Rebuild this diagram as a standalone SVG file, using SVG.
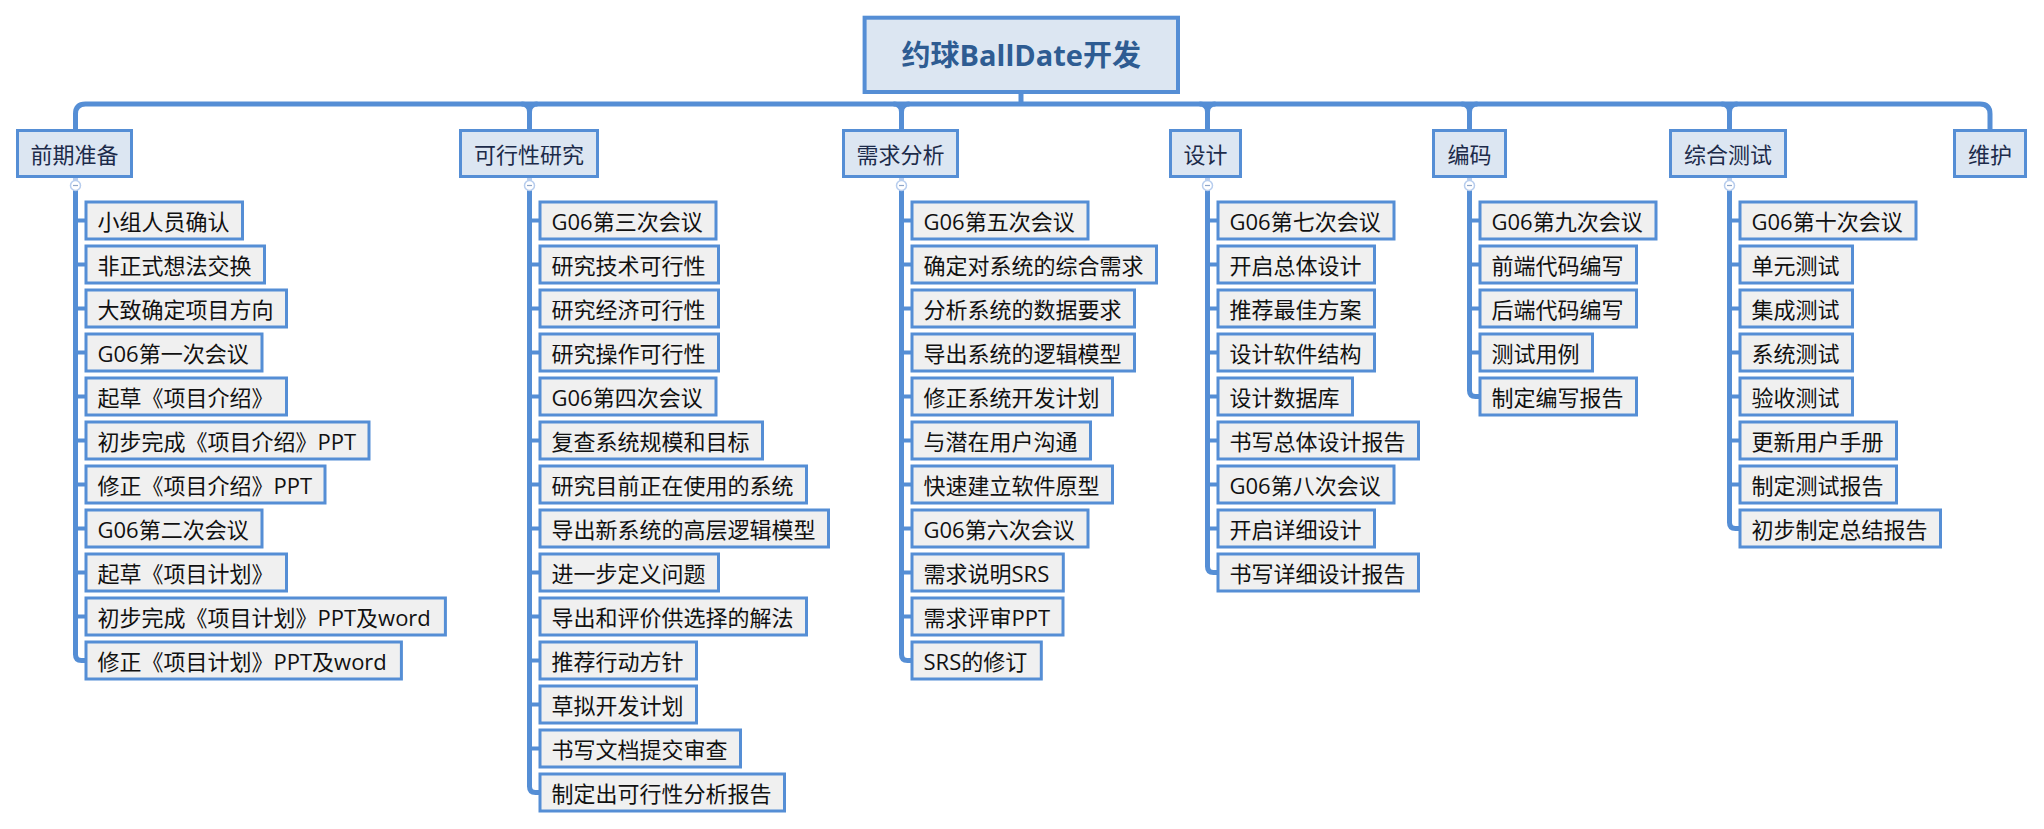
<svg xmlns="http://www.w3.org/2000/svg" width="2044" height="829" viewBox="0 0 2044 829">
<style>
text{font-family:"Open Sans","Noto Sans CJK SC","Noto Sans",sans-serif;font-size:22px;}
.title rect{fill:#dce6f2;stroke:#558ed5;stroke-width:4;}
.title text{font-size:29px;font-weight:bold;fill:#2e5c92;text-anchor:middle;}
.topic rect{fill:#dce6f2;stroke:#558ed5;stroke-width:3;}
.topic text{fill:#1c2b4a;text-anchor:middle;}
.sub rect{fill:#f0f0f0;stroke:#558ed5;stroke-width:3;}
.sub text{fill:#111111;}
.line{fill:none;stroke:#558ed5;stroke-width:5;stroke-linejoin:round;}
.stub{fill:none;stroke:#558ed5;stroke-width:4;}
.neck{stroke:#b7cdee;stroke-width:5;}
.fold circle{fill:#ffffff;stroke:#b7cdee;stroke-width:1.5;}
.fold line{stroke:#8fa6c8;stroke-width:1.2;}
</style>

<g id="connectors">
  <path class="line" d="M1021,94 V104"/>
  <path class="line" d="M75.5,129 V114 Q75.5,104 85.5,104 H1980 Q1990,104 1990,114 V129"/>
  <path class="line" d="M529.5,129 V112 Q529.5,104 521.5,104 M529.5,112 Q529.5,104 537.5,104"/>
  <path class="line" d="M901.5,129 V112 Q901.5,104 893.5,104 M901.5,112 Q901.5,104 909.5,104"/>
  <path class="line" d="M1207.5,129 V112 Q1207.5,104 1199.5,104 M1207.5,112 Q1207.5,104 1215.5,104"/>
  <path class="line" d="M1469.5,129 V112 Q1469.5,104 1461.5,104 M1469.5,112 Q1469.5,104 1477.5,104"/>
  <path class="line" d="M1729.5,129 V112 Q1729.5,104 1721.5,104 M1729.5,112 Q1729.5,104 1737.5,104"/>

  <!-- necks -->
  <line class="neck" x1="75.5" y1="178" x2="75.5" y2="190"/>
  <line class="neck" x1="529.5" y1="178" x2="529.5" y2="190"/>
  <line class="neck" x1="901.5" y1="178" x2="901.5" y2="190"/>
  <line class="neck" x1="1207.5" y1="178" x2="1207.5" y2="190"/>
  <line class="neck" x1="1469.5" y1="178" x2="1469.5" y2="190"/>
  <line class="neck" x1="1729.5" y1="178" x2="1729.5" y2="190"/>

  <!-- trunks -->
  <path class="line" d="M75.5,190 V654.5 Q75.5,660.5 81.5,660.5 H85"/>
  <path class="line" d="M529.5,190 V786.5 Q529.5,792.5 535.5,792.5 H539"/>
  <path class="line" d="M901.5,190 V654.5 Q901.5,660.5 907.5,660.5 H911"/>
  <path class="line" d="M1207.5,190 V566.5 Q1207.5,572.5 1213.5,572.5 H1217"/>
  <path class="line" d="M1469.5,190 V390.5 Q1469.5,396.5 1475.5,396.5 H1479"/>
  <path class="line" d="M1729.5,190 V522.5 Q1729.5,528.5 1735.5,528.5 H1739"/>

  <!-- stubs -->
  <path class="stub" d="M75.5,220.5 H85 M75.5,264.5 H85 M75.5,308.5 H85 M75.5,352.5 H85 M75.5,396.5 H85 M75.5,440.5 H85 M75.5,484.5 H85 M75.5,528.5 H85 M75.5,572.5 H85 M75.5,616.5 H85"/>
  <path class="stub" d="M529.5,220.5 H539 M529.5,264.5 H539 M529.5,308.5 H539 M529.5,352.5 H539 M529.5,396.5 H539 M529.5,440.5 H539 M529.5,484.5 H539 M529.5,528.5 H539 M529.5,572.5 H539 M529.5,616.5 H539 M529.5,660.5 H539 M529.5,704.5 H539 M529.5,748.5 H539"/>
  <path class="stub" d="M901.5,220.5 H911 M901.5,264.5 H911 M901.5,308.5 H911 M901.5,352.5 H911 M901.5,396.5 H911 M901.5,440.5 H911 M901.5,484.5 H911 M901.5,528.5 H911 M901.5,572.5 H911 M901.5,616.5 H911"/>
  <path class="stub" d="M1207.5,220.5 H1217 M1207.5,264.5 H1217 M1207.5,308.5 H1217 M1207.5,352.5 H1217 M1207.5,396.5 H1217 M1207.5,440.5 H1217 M1207.5,484.5 H1217 M1207.5,528.5 H1217"/>
  <path class="stub" d="M1469.5,220.5 H1479 M1469.5,264.5 H1479 M1469.5,308.5 H1479 M1469.5,352.5 H1479"/>
  <path class="stub" d="M1729.5,220.5 H1739 M1729.5,264.5 H1739 M1729.5,308.5 H1739 M1729.5,352.5 H1739 M1729.5,396.5 H1739 M1729.5,440.5 H1739 M1729.5,484.5 H1739"/>

  <!-- fold markers -->
  <g class="fold"><circle cx="75.5" cy="185.5" r="5"/><line x1="73" y1="185.5" x2="78" y2="185.5"/></g>
  <g class="fold"><circle cx="529.5" cy="185.5" r="5"/><line x1="527" y1="185.5" x2="532" y2="185.5"/></g>
  <g class="fold"><circle cx="901.5" cy="185.5" r="5"/><line x1="899" y1="185.5" x2="904" y2="185.5"/></g>
  <g class="fold"><circle cx="1207.5" cy="185.5" r="5"/><line x1="1205" y1="185.5" x2="1210" y2="185.5"/></g>
  <g class="fold"><circle cx="1469.5" cy="185.5" r="5"/><line x1="1467" y1="185.5" x2="1472" y2="185.5"/></g>
  <g class="fold"><circle cx="1729.5" cy="185.5" r="5"/><line x1="1727" y1="185.5" x2="1732" y2="185.5"/></g>
</g>

<g id="root" class="title"><rect x="864.6" y="17.7" width="313.4" height="74.3"/><text x="1021.3" y="65.5">约球BallDate开发</text></g>

<g id="t1" class="topic"><rect x="17.5" y="130.5" width="114" height="46"/><text x="74.5" y="163">前期准备</text></g>
<g id="t2" class="topic"><rect x="460.5" y="130.5" width="137" height="46"/><text x="529" y="163">可行性研究</text></g>
<g id="t3" class="topic"><rect x="843.5" y="130.5" width="114" height="46"/><text x="900.5" y="163">需求分析</text></g>
<g id="t4" class="topic"><rect x="1170.5" y="130.5" width="70" height="46"/><text x="1205.5" y="163">设计</text></g>
<g id="t5" class="topic"><rect x="1433.5" y="130.5" width="72" height="46"/><text x="1469.5" y="163">编码</text></g>
<g id="t6" class="topic"><rect x="1670.5" y="130.5" width="115" height="46"/><text x="1728" y="163">综合测试</text></g>
<g id="t7" class="topic"><rect x="1954.5" y="130.5" width="71" height="46"/><text x="1990" y="163">维护</text></g>

<!-- column 1 -->
<g id="n1-1" class="sub"><rect x="86" y="202" width="156.5" height="37"/><text x="97.5" y="229.5">小组人员确认</text></g>
<g id="n1-2" class="sub"><rect x="86" y="246" width="178.5" height="37"/><text x="97.5" y="273.5">非正式想法交换</text></g>
<g id="n1-3" class="sub"><rect x="86" y="290" width="200.5" height="37"/><text x="97.5" y="317.5">大致确定项目方向</text></g>
<g id="n1-4" class="sub"><rect x="86" y="334" width="176" height="37"/><text x="97.5" y="361.5">G06第一次会议</text></g>
<g id="n1-5" class="sub"><rect x="86" y="378" width="200.5" height="37"/><text x="97.5" y="405.5">起草《项目介绍》</text></g>
<g id="n1-6" class="sub"><rect x="86" y="422" width="283" height="37"/><text x="97.5" y="449.5">初步完成《项目介绍》PPT</text></g>
<g id="n1-7" class="sub"><rect x="86" y="466" width="239" height="37"/><text x="97.5" y="493.5">修正《项目介绍》PPT</text></g>
<g id="n1-8" class="sub"><rect x="86" y="510" width="176" height="37"/><text x="97.5" y="537.5">G06第二次会议</text></g>
<g id="n1-9" class="sub"><rect x="86" y="554" width="200.5" height="37"/><text x="97.5" y="581.5">起草《项目计划》</text></g>
<g id="n1-10" class="sub"><rect x="86" y="598" width="359.4" height="37"/><text x="97.5" y="625.5">初步完成《项目计划》PPT及word</text></g>
<g id="n1-11" class="sub"><rect x="86" y="642" width="315.4" height="37"/><text x="97.5" y="669.5">修正《项目计划》PPT及word</text></g>

<!-- column 2 -->
<g id="n2-1" class="sub"><rect x="540" y="202" width="176" height="37"/><text x="551.5" y="229.5">G06第三次会议</text></g>
<g id="n2-2" class="sub"><rect x="540" y="246" width="178.5" height="37"/><text x="551.5" y="273.5">研究技术可行性</text></g>
<g id="n2-3" class="sub"><rect x="540" y="290" width="178.5" height="37"/><text x="551.5" y="317.5">研究经济可行性</text></g>
<g id="n2-4" class="sub"><rect x="540" y="334" width="178.5" height="37"/><text x="551.5" y="361.5">研究操作可行性</text></g>
<g id="n2-5" class="sub"><rect x="540" y="378" width="176" height="37"/><text x="551.5" y="405.5">G06第四次会议</text></g>
<g id="n2-6" class="sub"><rect x="540" y="422" width="222.5" height="37"/><text x="551.5" y="449.5">复查系统规模和目标</text></g>
<g id="n2-7" class="sub"><rect x="540" y="466" width="266.5" height="37"/><text x="551.5" y="493.5">研究目前正在使用的系统</text></g>
<g id="n2-8" class="sub"><rect x="540" y="510" width="288.5" height="37"/><text x="551.5" y="537.5">导出新系统的高层逻辑模型</text></g>
<g id="n2-9" class="sub"><rect x="540" y="554" width="178.5" height="37"/><text x="551.5" y="581.5">进一步定义问题</text></g>
<g id="n2-10" class="sub"><rect x="540" y="598" width="266.5" height="37"/><text x="551.5" y="625.5">导出和评价供选择的解法</text></g>
<g id="n2-11" class="sub"><rect x="540" y="642" width="156.5" height="37"/><text x="551.5" y="669.5">推荐行动方针</text></g>
<g id="n2-12" class="sub"><rect x="540" y="686" width="156.5" height="37"/><text x="551.5" y="713.5">草拟开发计划</text></g>
<g id="n2-13" class="sub"><rect x="540" y="730" width="200.5" height="37"/><text x="551.5" y="757.5">书写文档提交审查</text></g>
<g id="n2-14" class="sub"><rect x="540" y="774" width="244.5" height="37"/><text x="551.5" y="801.5">制定出可行性分析报告</text></g>

<!-- column 3 -->
<g id="n3-1" class="sub"><rect x="912" y="202" width="176" height="37"/><text x="923.5" y="229.5">G06第五次会议</text></g>
<g id="n3-2" class="sub"><rect x="912" y="246" width="244.5" height="37"/><text x="923.5" y="273.5">确定对系统的综合需求</text></g>
<g id="n3-3" class="sub"><rect x="912" y="290" width="222.5" height="37"/><text x="923.5" y="317.5">分析系统的数据要求</text></g>
<g id="n3-4" class="sub"><rect x="912" y="334" width="222.5" height="37"/><text x="923.5" y="361.5">导出系统的逻辑模型</text></g>
<g id="n3-5" class="sub"><rect x="912" y="378" width="200.5" height="37"/><text x="923.5" y="405.5">修正系统开发计划</text></g>
<g id="n3-6" class="sub"><rect x="912" y="422" width="178.5" height="37"/><text x="923.5" y="449.5">与潜在用户沟通</text></g>
<g id="n3-7" class="sub"><rect x="912" y="466" width="200.5" height="37"/><text x="923.5" y="493.5">快速建立软件原型</text></g>
<g id="n3-8" class="sub"><rect x="912" y="510" width="176" height="37"/><text x="923.5" y="537.5">G06第六次会议</text></g>
<g id="n3-9" class="sub"><rect x="912" y="554" width="151.3" height="37"/><text x="923.5" y="581.5">需求说明SRS</text></g>
<g id="n3-10" class="sub"><rect x="912" y="598" width="151" height="37"/><text x="923.5" y="625.5">需求评审PPT</text></g>
<g id="n3-11" class="sub"><rect x="912" y="642" width="129.3" height="37"/><text x="923.5" y="669.5">SRS的修订</text></g>

<!-- column 4 -->
<g id="n4-1" class="sub"><rect x="1218" y="202" width="176" height="37"/><text x="1229.5" y="229.5">G06第七次会议</text></g>
<g id="n4-2" class="sub"><rect x="1218" y="246" width="156.5" height="37"/><text x="1229.5" y="273.5">开启总体设计</text></g>
<g id="n4-3" class="sub"><rect x="1218" y="290" width="156.5" height="37"/><text x="1229.5" y="317.5">推荐最佳方案</text></g>
<g id="n4-4" class="sub"><rect x="1218" y="334" width="156.5" height="37"/><text x="1229.5" y="361.5">设计软件结构</text></g>
<g id="n4-5" class="sub"><rect x="1218" y="378" width="134.5" height="37"/><text x="1229.5" y="405.5">设计数据库</text></g>
<g id="n4-6" class="sub"><rect x="1218" y="422" width="200.5" height="37"/><text x="1229.5" y="449.5">书写总体设计报告</text></g>
<g id="n4-7" class="sub"><rect x="1218" y="466" width="176" height="37"/><text x="1229.5" y="493.5">G06第八次会议</text></g>
<g id="n4-8" class="sub"><rect x="1218" y="510" width="156.5" height="37"/><text x="1229.5" y="537.5">开启详细设计</text></g>
<g id="n4-9" class="sub"><rect x="1218" y="554" width="200.5" height="37"/><text x="1229.5" y="581.5">书写详细设计报告</text></g>

<!-- column 5 -->
<g id="n5-1" class="sub"><rect x="1480" y="202" width="176" height="37"/><text x="1491.5" y="229.5">G06第九次会议</text></g>
<g id="n5-2" class="sub"><rect x="1480" y="246" width="156.5" height="37"/><text x="1491.5" y="273.5">前端代码编写</text></g>
<g id="n5-3" class="sub"><rect x="1480" y="290" width="156.5" height="37"/><text x="1491.5" y="317.5">后端代码编写</text></g>
<g id="n5-4" class="sub"><rect x="1480" y="334" width="112.5" height="37"/><text x="1491.5" y="361.5">测试用例</text></g>
<g id="n5-5" class="sub"><rect x="1480" y="378" width="156.5" height="37"/><text x="1491.5" y="405.5">制定编写报告</text></g>

<!-- column 6 -->
<g id="n6-1" class="sub"><rect x="1740" y="202" width="176" height="37"/><text x="1751.5" y="229.5">G06第十次会议</text></g>
<g id="n6-2" class="sub"><rect x="1740" y="246" width="112.5" height="37"/><text x="1751.5" y="273.5">单元测试</text></g>
<g id="n6-3" class="sub"><rect x="1740" y="290" width="112.5" height="37"/><text x="1751.5" y="317.5">集成测试</text></g>
<g id="n6-4" class="sub"><rect x="1740" y="334" width="112.5" height="37"/><text x="1751.5" y="361.5">系统测试</text></g>
<g id="n6-5" class="sub"><rect x="1740" y="378" width="112.5" height="37"/><text x="1751.5" y="405.5">验收测试</text></g>
<g id="n6-6" class="sub"><rect x="1740" y="422" width="156.5" height="37"/><text x="1751.5" y="449.5">更新用户手册</text></g>
<g id="n6-7" class="sub"><rect x="1740" y="466" width="156.5" height="37"/><text x="1751.5" y="493.5">制定测试报告</text></g>
<g id="n6-8" class="sub"><rect x="1740" y="510" width="200.5" height="37"/><text x="1751.5" y="537.5">初步制定总结报告</text></g>
</svg>
